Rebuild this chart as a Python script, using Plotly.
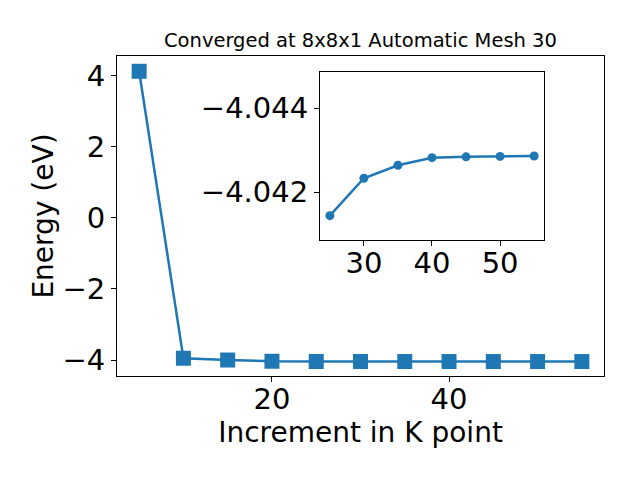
import plotly.graph_objects as go

kpoints = [5, 10, 15, 20, 25, 30, 35, 40, 45, 50, 55]
energy = [4.13, -3.95, -4.00, -4.035, -4.04144, -4.04233, -4.04264, -4.04282, -4.04284, -4.04285, -4.04286]
inset_k = kpoints[4:]
inset_e = energy[4:]

title_text = "Converged at 8x8x1 Automatic Mesh 30"
xlabel = "Increment in K point"
ylabel = "Energy (eV)"

blue = "#1f77b4"
font = "DejaVu Sans"
fs = 29
fst = 28

fig = go.Figure()
fig.add_trace(go.Scatter(x=kpoints, y=energy, mode="lines+markers",
                         line=dict(color=blue, width=2.5),
                         marker=dict(symbol="square", size=15, color=blue),
                         xaxis="x", yaxis="y", showlegend=False))
fig.add_trace(go.Scatter(x=inset_k, y=inset_e, mode="lines+markers",
                         line=dict(color=blue, width=2.5),
                         marker=dict(symbol="circle", size=9, color=blue),
                         xaxis="x2", yaxis="y2", showlegend=False))

axcommon = dict(showgrid=False, zeroline=False, showline=True, mirror=True,
                linecolor="black", linewidth=1, ticks="outside", ticklen=5,
                tickcolor="black", automargin=False,
                tickfont=dict(family=font, size=fs, color="black"))

# page body has an 8px margin; compensate in the figure margins
fig.update_layout(
    width=640, height=480,
    margin=dict(l=109, r=44, t=48, b=112, autoexpand=False),
    paper_bgcolor="white", plot_bgcolor="white",
    font=dict(family=font, color="black"),
    xaxis=dict(domain=[0, 1], range=[2.5, 57.5], tickvals=[20, 40],
               ticklabelstandoff=-8,
               title=dict(text=xlabel, font=dict(family=font, size=fst), standoff=0),
               **axcommon),
    yaxis=dict(domain=[0, 1], range=[-4.45, 4.56], tickvals=[-4, -2, 0, 2, 4],
               title=dict(text=ylabel, font=dict(family=font, size=fst), standoff=0),
               **axcommon),
    xaxis2=dict(domain=[0.4168, 0.8768], anchor="y2", range=[23.55, 56.45],
                ticklabelstandoff=-8, tickvals=[30, 40, 50], **axcommon),
    yaxis2=dict(domain=[0.425, 0.95], anchor="x2", range=[-4.04086, -4.04486],
                tickvals=[-4.044, -4.042], tickformat=".3f", **axcommon),
    annotations=[dict(text=title_text, x=0.5, y=1, xref="paper", yref="paper",
                      xanchor="center", yanchor="bottom", yshift=2, showarrow=False,
                      font=dict(family=font, size=19.5, color="black"))],
)

fig.write_html("out.html")
